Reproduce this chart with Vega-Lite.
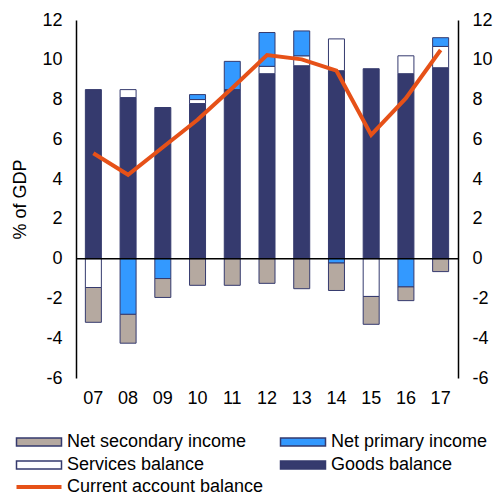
{
  "$schema": "https://vega.github.io/schema/vega-lite/v6.json",
  "width": 382,
  "height": 358,
  "autosize": {"type": "none"},
  "padding": {"left": 76, "top": 20, "right": 38, "bottom": 117},
  "background": "white",
  "config": {
    "view": {"stroke": null},
    "font": "Liberation Sans",
    "axis": {"labelFont": "Liberation Sans", "labelFontSize": 18, "labelColor": "#000000", "titleFont": "Liberation Sans", "titleFontSize": 18, "titleFontWeight": "normal", "titleColor": "#000000", "grid": false, "ticks": false, "domainColor": "#000000", "domainWidth": 1.5},
    "legend": {"labelFont": "Liberation Sans", "labelFontSize": 18, "labelColor": "#000000", "labelLimit": 300}
  },
  "datasets": {
    "bars": [
      {"year": "07", "series": "Goods balance", "ord": 1, "value": 8.5},
      {"year": "08", "series": "Goods balance", "ord": 1, "value": 8.1},
      {"year": "09", "series": "Goods balance", "ord": 1, "value": 7.6},
      {"year": "10", "series": "Goods balance", "ord": 1, "value": 7.8},
      {"year": "11", "series": "Goods balance", "ord": 1, "value": 8.5},
      {"year": "12", "series": "Goods balance", "ord": 1, "value": 9.3},
      {"year": "13", "series": "Goods balance", "ord": 1, "value": 9.7},
      {"year": "14", "series": "Goods balance", "ord": 1, "value": 9.45},
      {"year": "15", "series": "Goods balance", "ord": 1, "value": 9.55},
      {"year": "16", "series": "Goods balance", "ord": 1, "value": 9.3},
      {"year": "17", "series": "Goods balance", "ord": 1, "value": 9.6},
      {"year": "07", "series": "Services balance", "ord": 2, "value": -1.45},
      {"year": "08", "series": "Services balance", "ord": 2, "value": 0.4},
      {"year": "10", "series": "Services balance", "ord": 2, "value": 0.2},
      {"year": "12", "series": "Services balance", "ord": 2, "value": 0.37},
      {"year": "13", "series": "Services balance", "ord": 2, "value": 0.5},
      {"year": "14", "series": "Services balance", "ord": 2, "value": 1.6},
      {"year": "15", "series": "Services balance", "ord": 2, "value": -1.9},
      {"year": "16", "series": "Services balance", "ord": 2, "value": 0.9},
      {"year": "17", "series": "Services balance", "ord": 2, "value": 1.07},
      {"year": "08", "series": "Net primary income", "ord": 3, "value": -2.8},
      {"year": "09", "series": "Net primary income", "ord": 3, "value": -1.0},
      {"year": "10", "series": "Net primary income", "ord": 3, "value": 0.25},
      {"year": "11", "series": "Net primary income", "ord": 3, "value": 1.42},
      {"year": "12", "series": "Net primary income", "ord": 3, "value": 1.7},
      {"year": "13", "series": "Net primary income", "ord": 3, "value": 1.25},
      {"year": "14", "series": "Net primary income", "ord": 3, "value": -0.22},
      {"year": "16", "series": "Net primary income", "ord": 3, "value": -1.42},
      {"year": "17", "series": "Net primary income", "ord": 3, "value": 0.44},
      {"year": "07", "series": "Net secondary income", "ord": 4, "value": -1.75},
      {"year": "08", "series": "Net secondary income", "ord": 4, "value": -1.45},
      {"year": "09", "series": "Net secondary income", "ord": 4, "value": -0.95},
      {"year": "10", "series": "Net secondary income", "ord": 4, "value": -1.34},
      {"year": "11", "series": "Net secondary income", "ord": 4, "value": -1.34},
      {"year": "12", "series": "Net secondary income", "ord": 4, "value": -1.24},
      {"year": "13", "series": "Net secondary income", "ord": 4, "value": -1.51},
      {"year": "14", "series": "Net secondary income", "ord": 4, "value": -1.38},
      {"year": "15", "series": "Net secondary income", "ord": 4, "value": -1.4},
      {"year": "16", "series": "Net secondary income", "ord": 4, "value": -0.69},
      {"year": "17", "series": "Net secondary income", "ord": 4, "value": -0.65}
    ],
    "ca": [
      {"year": "07", "series": "Current account balance", "value": 5.3},
      {"year": "08", "series": "Current account balance", "value": 4.22},
      {"year": "09", "series": "Current account balance", "value": 5.6},
      {"year": "10", "series": "Current account balance", "value": 6.98},
      {"year": "11", "series": "Current account balance", "value": 8.58},
      {"year": "12", "series": "Current account balance", "value": 10.24},
      {"year": "13", "series": "Current account balance", "value": 10.02},
      {"year": "14", "series": "Current account balance", "value": 9.45},
      {"year": "15", "series": "Current account balance", "value": 6.22},
      {"year": "16", "series": "Current account balance", "value": 8.07},
      {"year": "17", "series": "Current account balance", "value": 10.49}
    ]
  },
  "resolve": {"axis": {"y": "independent"}},
  "layer": [
    {
      "data": {"name": "bars"},
      "mark": {"type": "bar", "size": 16, "stroke": "#353A6E", "strokeWidth": 1},
      "encoding": {
        "x": {"field": "year", "type": "nominal", "scale": {"domain": ["07","08","09","10","11","12","13","14","15","16","17"], "paddingInner": 0, "paddingOuter": 0}, "axis": {"title": null, "domain": false, "labelAngle": 0, "labelPadding": 11}},
        "y": {"field": "value", "type": "quantitative", "stack": "zero", "scale": {"domain": [-6, 12], "nice": false}, "axis": {"orient": "left", "title": "% of GDP", "values": [-6,-4,-2,0,2,4,6,8,10,12], "labelExpr": "datum.value < 0 ? '-' + abs(datum.value) : '' + datum.value", "labelPadding": 14, "titlePadding": 12}},
        "fill": {"field": "series", "type": "nominal", "scale": {"domain": ["Net secondary income", "Net primary income", "Services balance", "Goods balance"], "range": ["#B5A9A0", "#3399FF", "#FFFFFF", "#353A6E"]}, "legend": {"title": null, "orient": "none", "direction": "horizontal", "legendX": -46, "legendY": 413, "columns": 2, "columnPadding": 30, "rowPadding": 5, "symbolType": "M-5,-0.89H5V0.89H-5Z", "symbolSize": 81, "symbolStrokeColor": "#353A6E", "symbolStrokeWidth": 1.5, "labelOffset": 19, "gridAlign": "all"}},
        "order": {"field": "ord", "type": "quantitative"}
      }
    },
    {
      "data": {"values": [{"v": 0}]},
      "mark": {"type": "rule", "color": "#000000", "strokeWidth": 1.5},
      "encoding": {"y": {"field": "v", "type": "quantitative", "axis": null}}
    },
    {
      "data": {"name": "ca"},
      "mark": {"type": "line", "strokeWidth": 4},
      "encoding": {
        "x": {"field": "year", "type": "nominal"},
        "y": {"field": "value", "type": "quantitative", "axis": {"orient": "right", "title": null, "values": [-6,-4,-2,0,2,4,6,8,10,12], "labelExpr": "datum.value < 0 ? '-' + abs(datum.value) : '' + datum.value", "labelPadding": 14}},
        "stroke": {"field": "series", "type": "nominal", "scale": {"range": ["#E65118"]}, "legend": {"title": null, "orient": "none", "legendX": -46, "legendY": 458, "symbolType": "M-5,0H5", "symbolSize": 81, "symbolStrokeWidth": 4, "symbolFillColor": "transparent", "labelOffset": 19}}
      }
    }
  ]
}
